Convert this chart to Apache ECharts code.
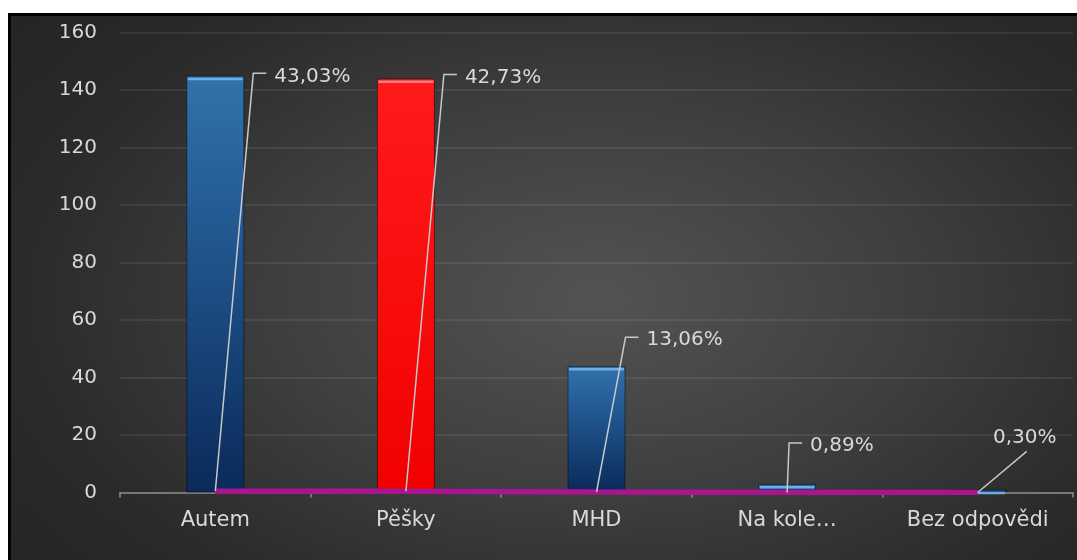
<!DOCTYPE html>
<html>
<head>
<meta charset="utf-8">
<script src="https://cdn.jsdelivr.net/npm/echarts@6/dist/echarts.min.js"></script>
<style>
  html, body { margin: 0; padding: 0; background: #fff; width: 1077px; height: 560px; overflow: hidden; }
  #frame {
    position: absolute; left: 8px; top: 13px; width: 1069px; height: 547px;
    box-sizing: border-box; border-top: 3px solid #000; border-left: 3px solid #000;
    background: radial-gradient(ellipse 68% 80% at 55% 52%, #535353 0%, #3e3e3e 45%, #2a2a2a 80%, #252525 100%);
  }
  #chart { width: 100%; height: 100%; }
</style>
</head>
<body>
<div id="frame"><div id="chart"></div></div>
<script>
// Ways of getting there and how many people chose each
const categories = ['Autem', 'Pěšky', 'MHD', 'Na kole…', 'Bez odpovědi'];
const counts = [145, 144, 44, 3, 1];
const shares = [0.4303, 0.4273, 0.1306, 0.0089, 0.0030];

// Value axis ticks
const yMin = 0;
const yMax = 160;
const yStep = 20;

// Callout placement: elbow offset from the category centre (px),
// elbow height in axis units, and how the leader meets the text
const calloutPlacement = [
  { dx: 38, level: 145.8, mode: 'side' },
  { dx: 38, level: 145.4, mode: 'side' },
  { dx: 29, level: 54.0, mode: 'side' },
  { dx: 2,  level: 17.2, mode: 'side' },
  { dx: 49, level: 14.3, mode: 'below' }
];

const FONT = '"DejaVu Sans", sans-serif';
const TEXT = '#d9d9d9';
const LEADER = '#c8c8c8';

const fmtPct = v => (v * 100).toFixed(2).replace('.', ',') + '%';

const blueFill = new echarts.graphic.LinearGradient(0, 0, 0, 1, [
  { offset: 0, color: '#3172aa' },
  { offset: 0.25, color: '#27609a' },
  { offset: 1, color: '#0a2a5a' }
]);
const redFill = new echarts.graphic.LinearGradient(0, 0, 0, 1, [
  { offset: 0, color: '#ff1a1a' },
  { offset: 1, color: '#f20000' }
]);
const barColours = [blueFill, redFill, blueFill, blueFill, blueFill];
const capColours = ['#6eaee6', '#ff7a7a', '#6eaee6', '#6eaee6', '#6eaee6'];

const chart = echarts.init(document.getElementById('chart'), null, { renderer: 'canvas' });

chart.setOption({
  animation: false,
  backgroundColor: 'transparent',
  grid: { left: 109, right: 4, top: 16.5, bottom: 67.5 },
  xAxis: {
    type: 'category',
    data: categories,
    boundaryGap: true,
    axisLine: { show: true, lineStyle: { color: '#8c8c8c', width: 1.5 } },
    axisTick: { show: true, length: 5, lineStyle: { color: '#8c8c8c', width: 1.5 } },
    axisLabel: { color: TEXT, fontFamily: FONT, fontSize: 21, margin: 18 },
    splitLine: { show: false }
  },
  yAxis: {
    type: 'value',
    min: yMin,
    max: yMax,
    interval: yStep,
    axisLine: { show: false },
    axisTick: { show: false },
    axisLabel: { color: TEXT, fontFamily: FONT, fontSize: 20, margin: 23 },
    splitLine: { lineStyle: { color: 'rgba(255,255,255,0.1)', width: 1.5 } }
  },
  series: [
    {
      name: 'Počet',
      type: 'bar',
      barWidth: 58,
      z: 2,
      data: counts.map((v, i) => ({
        value: v,
        itemStyle: {
          color: barColours[i],
          borderColor: 'rgba(0,0,0,0.45)',
          borderWidth: 1
        }
      }))
    },
    {
      name: 'Hrana',
      type: 'pictorialBar',
      symbol: 'rect',
      symbolSize: [55, 2.5],
      symbolPosition: 'end',
      symbolOffset: [0, 2],
      z: 3,
      silent: true,
      data: counts.map((v, i) => ({ value: v, itemStyle: { color: capColours[i] } }))
    },
    {
      name: 'Podíl',
      type: 'line',
      data: shares,
      symbol: 'none',
      z: 4,
      lineStyle: { color: '#a8158f', width: 5.5, cap: 'butt' }
    },
    {
      name: 'Popisky',
      type: 'custom',
      z: 5,
      clip: false,
      silent: true,
      data: shares.map((s, i) => [i, s]),
      encode: { x: 0, y: 1 },
      renderItem: function (params, api) {
        const i = api.value(0);
        const p = api.coord([i, api.value(1)]);
        const pl = calloutPlacement[i];
        const elbow = [p[0] + pl.dx, api.coord([i, pl.level])[1]];
        const text = fmtPct(shares[i]);
        if (pl.mode === 'side') {
          return {
            type: 'group',
            children: [
              {
                type: 'polyline',
                shape: { points: [p, elbow, [elbow[0] + 13, elbow[1]]] },
                style: { stroke: LEADER, lineWidth: 1.5, fill: null }
              },
              {
                type: 'text',
                style: {
                  x: elbow[0] + 21, y: elbow[1] + 3,
                  text: text, fill: TEXT, font: '20px ' + FONT,
                  align: 'left', verticalAlign: 'middle'
                }
              }
            ]
          };
        }
        return {
          type: 'group',
          children: [
            {
              type: 'line',
              shape: { x1: p[0], y1: p[1], x2: elbow[0], y2: elbow[1] },
              style: { stroke: LEADER, lineWidth: 1.5 }
            },
            {
              type: 'text',
              style: {
                x: elbow[0] - 2, y: elbow[1] - 4,
                text: text, fill: TEXT, font: '20px ' + FONT,
                align: 'center', verticalAlign: 'bottom'
              }
            }
          ]
        };
      }
    }
  ]
});
</script>
</body>
</html>
